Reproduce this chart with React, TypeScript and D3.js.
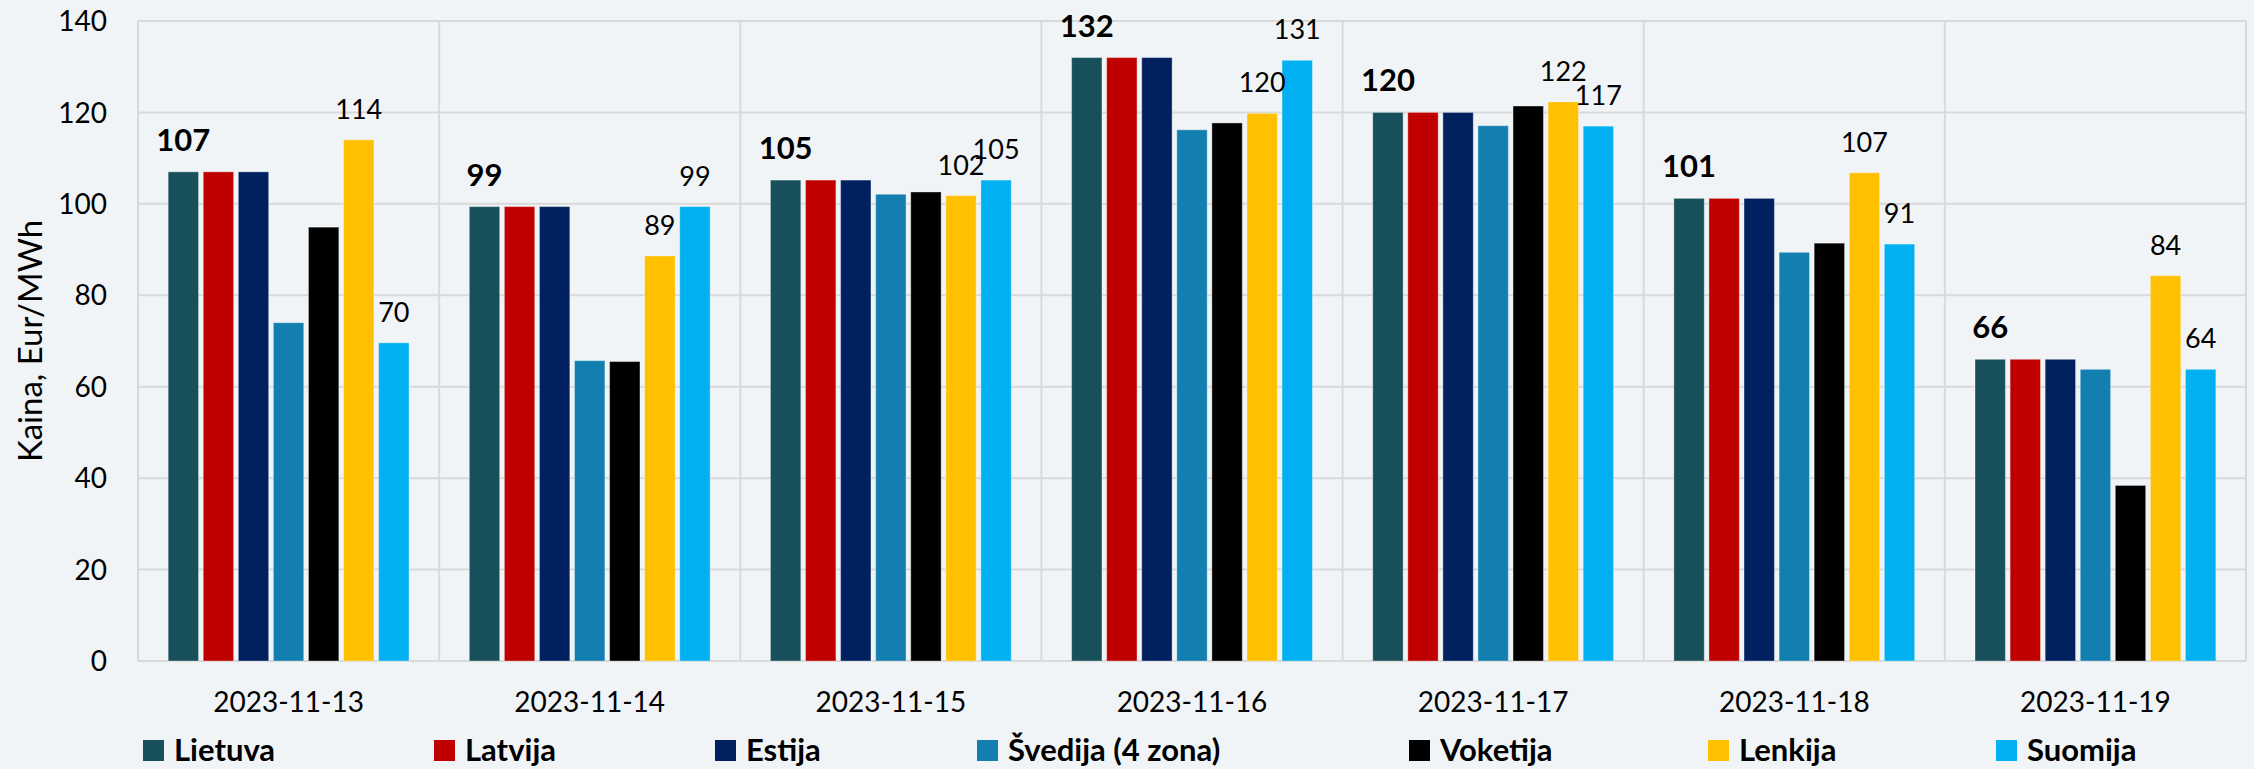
import * as d3 from 'd3';

const dates = ['2023-11-13', '2023-11-14', '2023-11-15', '2023-11-16', '2023-11-17', '2023-11-18', '2023-11-19'];
const countries = ['Lietuva', 'Latvija', 'Estija', 'Švedija (4 zona)', 'Voketija', 'Lenkija', 'Suomija'];
const colors = ['#17505A', '#C00000', '#002060', '#137FB0', '#000000', '#FFC000', '#00B0F0'];

const lietuva = [107, 99.4, 105.2, 132, 120, 101.2, 66];
const latvija = [107, 99.4, 105.2, 132, 120, 101.2, 66];
const estija = [107, 99.4, 105.2, 132, 120, 101.2, 66];
const svedija = [74, 65.7, 102.1, 116.2, 117.1, 89.4, 63.8];
const voketija = [94.9, 65.5, 102.6, 117.7, 121.4, 91.4, 38.4];
const lenkija = [114, 88.6, 101.8, 119.8, 122.3, 106.8, 84.3];
const suomija = [69.6, 99.4, 105.2, 131.4, 117, 91.2, 63.8];

const series = [lietuva, latvija, estija, svedija, voketija, lenkija, suomija];
// series that carry value labels; the first one (Lietuva) is bold
const labelled = [0, 5, 6];
const yTicks = [0, 20, 40, 60, 80, 100, 120, 140];

const W = 2254;
const H = 769;
const margin = { left: 138, right: 8, top: 21, bottom: 108 };
const font = 'Lato, "Open Sans", sans-serif';
const legendX = [143, 434, 715, 977, 1409, 1708, 1996];

export default function App() {
  const x0 = d3.scaleBand<string>()
    .domain(dates)
    .range([margin.left, W - margin.right])
    .padding(0);
  const x1 = d3.scaleBand<string>()
    .domain(countries)
    .range([0, x0.bandwidth()])
    .paddingInner(0.134)
    .paddingOuter(0.86);
  const y = d3.scaleLinear().domain([0, 140]).range([H - margin.bottom, margin.top]);

  const grid = '#D9D9D9';

  return (
    <svg width={W} height={H} style={{ position: 'absolute', left: 0, top: 0 }} fontFamily={font}>
      <rect width={W} height={H} fill="#F0F4F7" />

      {/* horizontal gridlines */}
      {yTicks.map(t => (
        <line key={'h' + t} x1={margin.left} x2={W - margin.right} y1={y(t)} y2={y(t)} stroke={grid} strokeWidth={2} />
      ))}
      {/* vertical gridlines between dates */}
      {dates.map(d => (
        <line key={'v' + d} x1={x0(d)!} x2={x0(d)!} y1={y(140)} y2={y(0)} stroke={grid} strokeWidth={2} />
      ))}
      <line x1={W - margin.right} x2={W - margin.right} y1={y(140)} y2={y(0)} stroke={grid} strokeWidth={2} />

      {/* y axis */}
      {yTicks.map(t => (
        <text key={'yt' + t} x={107} y={y(t)} dy="0.36em" textAnchor="end" fontSize={28} fill="#000">{t}</text>
      ))}
      <text transform={`translate(42,${(y(0) + y(140)) / 2}) rotate(-90)`} textAnchor="middle" fontSize={33} fill="#000">
        Kaina, Eur/MWh
      </text>

      {/* bars + labels */}
      {dates.map((d, di) => (
        <g key={d} transform={`translate(${x0(d)},0)`}>
          {countries.map((c, ci) => {
            const v = series[ci][di];
            return (
              <rect key={c} x={x1(c)!} y={y(v)} width={x1.bandwidth()} height={y(0) - y(v)}
                fill={colors[ci]} stroke="#FFFFFF" strokeOpacity={0.35} strokeWidth={1} />
            );
          })}
          {labelled.map(ci => {
            const c = countries[ci];
            const v = series[ci][di];
            const bold = ci === 0;
            return (
              <text key={'l' + c} x={x1(c)! + x1.bandwidth() / 2} y={y(v) - 21} textAnchor="middle"
                fontSize={bold ? 31 : 27} fontWeight={bold ? 700 : 400} fill="#000">
                {Math.round(v)}
              </text>
            );
          })}
          <text x={x0.bandwidth() / 2} y={712} textAnchor="middle" fontSize={28} fill="#000">{d}</text>
        </g>
      ))}

      {/* legend */}
      {countries.map((c, ci) => (
        <g key={'lg' + c} transform={`translate(${legendX[ci]},740)`}>
          <rect x={0} y={0} width={21} height={21} fill={colors[ci]} />
          <text x={31} y={21} fontSize={31} fontWeight={700} fill="#000">{c}</text>
        </g>
      ))}
    </svg>
  );
}
